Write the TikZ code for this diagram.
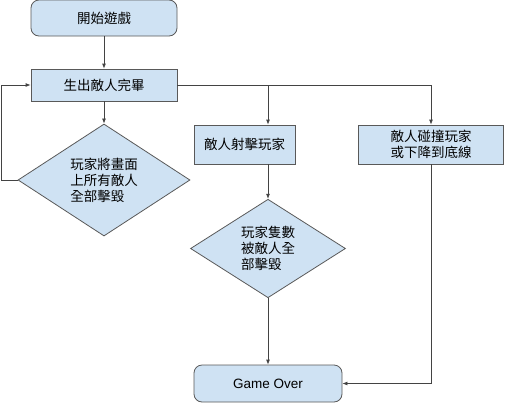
\documentclass[tikz,border=0pt]{standalone}
\usepackage{fontspec}
\setmainfont{Liberation Sans}
\newfontfamily\cjk{Noto Sans CJK TC}
\usetikzlibrary{positioning, shapes.geometric, arrows.meta}
\definecolor{boxfill}{HTML}{CFE2F3}
\definecolor{boxline}{HTML}{595959}
\definecolor{flowline}{HTML}{434343}

\begin{document}
\begin{tikzpicture}[
			x=1pt, y=-1pt,
			every node/.style={font=\cjk\fontsize{13.5}{16}\selectfont},
			terminal/.style={rectangle, rounded corners=8pt, draw=boxline, fill=boxfill, line width=0.8pt, minimum width=146pt, minimum height=36pt, align=center},
			process/.style={rectangle, draw=boxline, fill=boxfill, line width=0.8pt, minimum width=146pt, minimum height=32pt, align=center},
			decision/.style={diamond, draw=boxline, fill=boxfill, line width=0.8pt, inner sep=0pt, align=left},
			flow/.style={-{Latex[length=5pt,width=4pt]}, draw=flowline, line width=0.8pt}
			]
			\useasboundingbox (0,0) rectangle (506,402);
			
			% Start
			\node[terminal] (start) at (104,18) {開始遊戲};
			
			% Spawn enemies
			\node[process] (spawn) at (104,85) {生出敵人完畢};
			
			% All enemies cleared
			\node[decision, minimum width=172pt, minimum height=108pt] (clear) at (104,180) {玩家將畫面\\上所有敵人\\全部擊毀};
			
			% Enemy shoots
			\node[process, minimum width=101pt, minimum height=39pt] (shoot) at (244.5,144.5) {敵人射擊玩家};
			
			% Enemy collides
			\node[process, minimum width=145pt, minimum height=39pt] (hit) at (431,144.5) {敵人碰撞玩家\\或下降到底線};
			
			% Lives lost
			\node[decision, minimum width=155pt, minimum height=83pt] (lives) at (268,248.5) {玩家隻數\\被敵人全\\部擊毀};
			
			% Game over
			\node[terminal, minimum width=148pt, minimum height=37pt, font=\fontsize{13.5}{16}\selectfont] (over) at (268,383.5) {Game Over};
			
			% Arrows
			\coordinate (tap) at (268,85);
			\draw[flow] (start) -- (spawn);
			\draw[flow] (spawn) -- (clear);
			\draw[flow] (spawn.east) -| (hit.north);
			\draw[flow] (tap) -- (tap |- shoot.north);
			\draw[flow] (clear.west) -- ++(-16,0) |- (spawn.west);
			\draw[flow] (lives.north |- shoot.south) -- (lives.north);
			\draw[flow] (lives) -- (over);
			\draw[flow] (hit) |- (over);
			
		\end{tikzpicture}
\end{document}
